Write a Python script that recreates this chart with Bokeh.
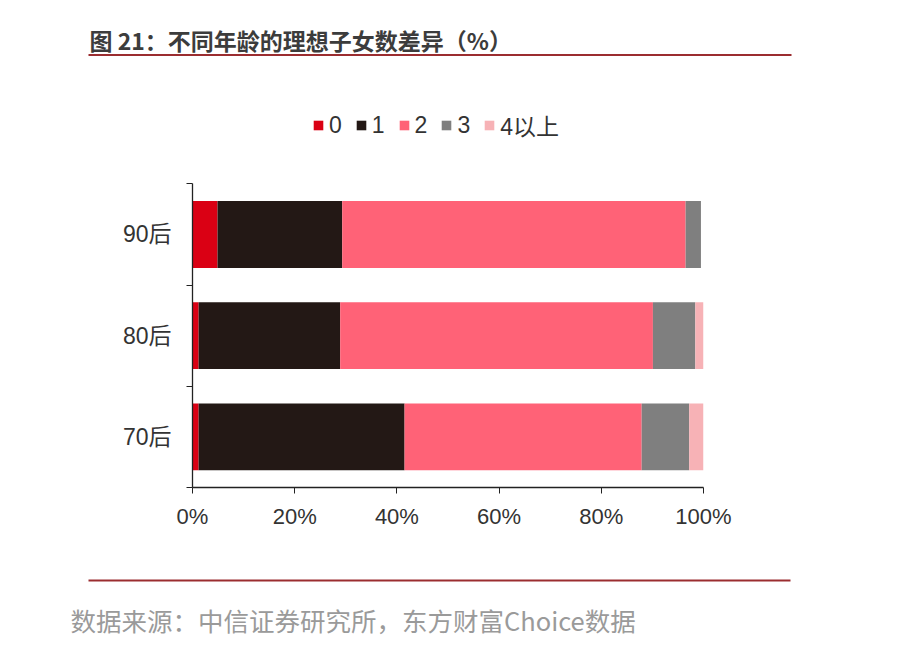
from bokeh.plotting import figure
from bokeh.layouts import column
from bokeh.models import Range1d, FixedTicker, ColumnDataSource
from bokeh.core.properties import value
from bokeh.embed import file_html
from bokeh.resources import INLINE

# ---- data ----
categories = ["70后", "80后", "90后"]
series = ["0", "1", "2", "3", "4以上"]
v0 = [1.2, 1.2, 4.9]
v1 = [40.3, 27.7, 24.4]
v2 = [46.4, 61.2, 67.2]
v3 = [9.3, 8.3, 3.0]
v4 = [2.8, 1.6, 0.0]
x_ticks = [0, 20, 40, 60, 80, 100]
x_tick_labels = ["0%", "20%", "40%", "60%", "80%", "100%"]
title_text = "图 21：不同年龄的理想子女数差异（%）"
source_text = "数据来源：中信证券研究所，东方财富Choice数据"

colors = ["#DA0014", "#231815", "#FF6277", "#7F7F7F", "#F7B2B6"]
FONT = "Liberation Sans, Noto Sans CJK SC"
CJK = "Noto Sans CJK SC"
RULE = "#9B2D30"
W = 896


def blank(height):
    f = figure(width=W, height=height, output_backend="svg", toolbar_location=None,
               x_range=Range1d(0, W), y_range=Range1d(height, 0),
               x_axis_type=None, y_axis_type=None,
               min_border=0, min_border_left=0, min_border_right=0,
               min_border_top=0, min_border_bottom=0, frame_align=False)
    f.outline_line_color = None
    f.xgrid.grid_line_color = None
    f.ygrid.grid_line_color = None
    return f


# ---- header: title + rule ----
head = blank(100)
head.text(x=[89], y=[39], text=[title_text], text_font=value(CJK), text_font_size=value("23px"),
          text_font_style="bold", text_color="#3c3c3c", text_baseline="middle")
head.segment(x0=[88], y0=[54.5], x1=[791], y1=[54.5], line_color=RULE, line_width=2)

# ---- main chart ----
ypos = [i + 0.5 for i in range(len(categories))]
source = ColumnDataSource(data=dict(y=ypos, cat=categories,
                                    **dict(zip(series, [v0, v1, v2, v3, v4]))))

p = figure(width=W, height=460, output_backend="svg", toolbar_location=None,
           x_range=Range1d(0, 100), y_range=Range1d(0, 3.824),
           min_border_left=192, min_border_right=W - 192 - 511,
           min_border_top=0, min_border_bottom=73, frame_align=False)
p.outline_line_color = None
p.xgrid.grid_line_color = None
p.ygrid.grid_line_color = None

p.hbar_stack(series, y="y", height=0.66, color=colors, source=source,
             legend_label=series, line_width=0)

p.yaxis.bounds = (0, len(categories))
p.yaxis.ticker = FixedTicker(ticks=ypos, minor_ticks=list(range(len(categories) + 1)))
p.yaxis.major_label_overrides = dict(zip(ypos, categories))
p.yaxis.major_tick_line_color = None
p.yaxis.major_tick_out = 0
p.yaxis.major_tick_in = 0
p.yaxis.minor_tick_out = 6
p.yaxis.minor_tick_in = 0
p.yaxis.minor_tick_line_color = "#222222"
p.yaxis.major_label_standoff = 15
p.yaxis.major_label_text_font_size = "23px"
p.yaxis.major_label_text_font = FONT
p.yaxis.major_label_text_color = "#333333"
p.yaxis.axis_line_color = "#222222"
p.yaxis.axis_line_width = 1.3

p.xaxis.bounds = (x_ticks[0], x_ticks[-1])
p.xaxis.ticker = FixedTicker(ticks=x_ticks)
p.xaxis.major_label_overrides = dict(zip(x_ticks, x_tick_labels))
p.xaxis.major_tick_out = 6
p.xaxis.major_tick_in = 0
p.xaxis.minor_tick_line_color = None
p.xaxis.major_tick_line_color = "#222222"
p.xaxis.major_label_standoff = 10
p.xaxis.major_label_text_font_size = "22px"
p.xaxis.major_label_text_font = FONT
p.xaxis.major_label_text_color = "#333333"
p.xaxis.axis_line_color = "#222222"
p.xaxis.axis_line_width = 1.3

lg = p.legend[0]
lg.orientation = "horizontal"
lg.location = (120, 345)
lg.padding = 0
lg.margin = 0
lg.border_line_color = None
lg.background_fill_alpha = 0
lg.glyph_width = 12
lg.glyph_height = 12
lg.label_standoff = 5
lg.label_width = 0
lg.spacing = 13
lg.label_text_font_size = "23px"
lg.label_text_font = FONT
lg.label_text_color = "#333333"
lg.label_height = 24

# ---- footer: rule + source ----
foot = blank(96)
foot.segment(x0=[88], y0=[20], x1=[790], y1=[20], line_color=RULE, line_width=2)
foot.text(x=[70], y=[59], text=[source_text], text_font=value(CJK), text_font_size=value("25.5px"),
          text_color="#9a9a9a", text_baseline="middle")

layout = column(head, p, foot, spacing=0)
open("out.html", "w").write(file_html(layout, INLINE))
